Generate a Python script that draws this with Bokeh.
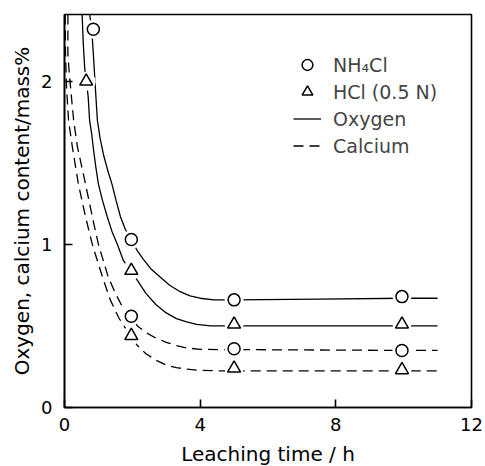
from bokeh.plotting import figure
from bokeh.models import Legend, LegendItem, Range1d, FixedTicker
from bokeh.embed import file_html
from bokeh.resources import INLINE

# measured points
nh4cl_oxygen_t = [0.85, 1.97, 5.0, 9.95]
nh4cl_oxygen = [2.32, 1.03, 0.66, 0.68]
nh4cl_calcium_t = [1.97, 5.0, 9.95]
nh4cl_calcium = [0.56, 0.36, 0.35]
hcl_oxygen_t = [0.64, 1.97, 5.0, 9.95]
hcl_oxygen = [2.0, 0.84, 0.51, 0.51]
hcl_calcium_t = [1.97, 5.0, 9.95]
hcl_calcium = [0.44, 0.24, 0.23]

# hand-drawn curves
oxy_nh4cl_x = [0.74, 0.80, 0.85, 0.91, 0.97, 1.05, 1.15, 1.28, 1.4, 1.52, 1.65, 1.8, 1.97, 2.15, 2.32, 2.55, 2.82, 3.1, 3.41, 3.7, 4.0, 4.4, 5.0, 7.5, 10.0, 11.0]
oxy_nh4cl_y = [2.41, 2.33, 2.17, 1.96, 1.76, 1.65, 1.55, 1.45, 1.37, 1.27, 1.17, 1.09, 1.03, 0.96, 0.91, 0.85, 0.80, 0.75, 0.71, 0.685, 0.67, 0.66, 0.66, 0.665, 0.67, 0.67]
oxy_hcl_x = [0.52, 0.55, 0.57, 0.60, 0.65, 0.70, 0.74, 0.80, 0.85, 0.92, 1.0, 1.12, 1.26, 1.4, 1.56, 1.74, 1.94, 2.15, 2.4, 2.7, 3.0, 3.3, 3.6, 3.9, 4.3, 5.0, 10.0, 11.0]
oxy_hcl_y = [2.41, 2.25, 2.17, 2.07, 2.0, 1.9, 1.76, 1.68, 1.59, 1.48, 1.37, 1.27, 1.17, 1.08, 1.0, 0.90, 0.84, 0.78, 0.70, 0.63, 0.58, 0.545, 0.525, 0.51, 0.50, 0.50, 0.50, 0.50]
ca_nh4cl_x = [0.10, 0.10, 0.14, 0.18, 0.27, 0.38, 0.62, 0.82, 1.0, 1.29, 1.5, 1.7, 1.94, 2.15, 2.4, 2.7, 3.0, 3.3, 3.6, 4.0, 4.5, 5.0, 10.0, 11.0]
ca_nh4cl_y = [2.41, 2.17, 2.05, 1.96, 1.76, 1.60, 1.37, 1.17, 1.0, 0.80, 0.70, 0.62, 0.56, 0.50, 0.46, 0.425, 0.40, 0.38, 0.365, 0.357, 0.355, 0.355, 0.35, 0.35]
ca_hcl_x = [0.02, 0.03, 0.06, 0.12, 0.23, 0.41, 0.62, 0.82, 1.12, 1.35, 1.6, 1.94, 2.15, 2.4, 2.7, 3.0, 3.3, 3.6, 4.0, 4.5, 5.0, 10.0, 11.0]
ca_hcl_y = [2.41, 2.17, 1.96, 1.76, 1.60, 1.37, 1.17, 1.0, 0.80, 0.66, 0.55, 0.44, 0.38, 0.33, 0.29, 0.26, 0.245, 0.235, 0.228, 0.225, 0.225, 0.225, 0.225]

x_ticks = [0, 4, 8, 12]
y_ticks = [0, 1, 2]
legend_labels = ["NH\u2084Cl", "HCl (0.5 N)", "Oxygen", "Calcium"]

FONT = "DejaVu Sans"

p = figure(frame_width=407, frame_height=393,
           x_range=Range1d(0, 12), y_range=Range1d(0, 2.41),
           output_backend="svg", toolbar_location=None,
           min_border_left=64, min_border_top=14, min_border_right=12, min_border_bottom=50)
p.grid.visible = False
p.outline_line_color = "black"
p.outline_line_width = 1.6

for ax in (p.xaxis[0], p.yaxis[0]):
    ax.axis_line_width = 1.6
    ax.major_tick_in = 8
    ax.major_tick_out = 0
    ax.minor_tick_in = 0
    ax.minor_tick_out = 0
    ax.major_tick_line_width = 1.6
    ax.major_label_text_font = FONT
    ax.major_label_text_font_size = "18px"
    ax.axis_label_text_font = FONT
    ax.axis_label_text_font_size = "20px"
    ax.axis_label_text_font_style = "normal"
    ax.major_label_text_color = "black"
    ax.axis_label_text_color = "black"

p.xaxis.ticker = FixedTicker(ticks=x_ticks)
p.yaxis.ticker = FixedTicker(ticks=y_ticks)
p.xaxis.axis_label = "Leaching time / h"
p.yaxis.axis_label = "Oxygen, calcium content/mass%"
p.xaxis.major_label_standoff = 10
p.yaxis.major_label_standoff = 12
p.xaxis.axis_label_standoff = 8
p.yaxis.axis_label_standoff = 4

lw = 1.3
dash = "10 6"
ra = p.line(oxy_nh4cl_x, oxy_nh4cl_y, line_color="black", line_width=lw)
rb = p.line(oxy_hcl_x, oxy_hcl_y, line_color="black", line_width=lw)
rc = p.line(ca_nh4cl_x, ca_nh4cl_y, line_color="black", line_width=lw, line_dash=dash)
rd = p.line(ca_hcl_x, ca_hcl_y, line_color="black", line_width=lw, line_dash=dash)

# white halos around markers (gaps in the curves)
all_circ_x = nh4cl_oxygen_t + nh4cl_calcium_t
all_circ_y = nh4cl_oxygen + nh4cl_calcium
all_tri_x = hcl_oxygen_t + hcl_calcium_t
all_tri_y = hcl_oxygen + hcl_calcium
p.scatter(all_circ_x, all_circ_y, marker="circle", size=19, fill_color="white", line_color=None)
p.scatter(all_tri_x, all_tri_y, marker="circle", size=19, fill_color="white", line_color=None)

rcirc = p.scatter(all_circ_x, all_circ_y, marker="circle", size=12,
                  fill_color="white", line_color="black", line_width=1.5)
rtri = p.scatter(all_tri_x, all_tri_y, marker="triangle", size=13,
                 fill_color="white", line_color="black", line_width=1.5)

legend = Legend(items=[
    LegendItem(label=legend_labels[0], renderers=[rcirc]),
    LegendItem(label=legend_labels[1], renderers=[rtri]),
    LegendItem(label=legend_labels[2], renderers=[ra]),
    LegendItem(label=legend_labels[3], renderers=[rc]),
], location=(229, 248))
legend.border_line_color = None
legend.background_fill_alpha = 0
legend.padding = 0
legend.margin = 0
legend.spacing = 0
legend.label_height = 27
legend.glyph_height = 27
legend.glyph_width = 28
legend.label_standoff = 12
legend.label_text_font = FONT
legend.label_text_font_size = "19px"
p.add_layout(legend)

open("out.html", "w").write(file_html(p, INLINE))
